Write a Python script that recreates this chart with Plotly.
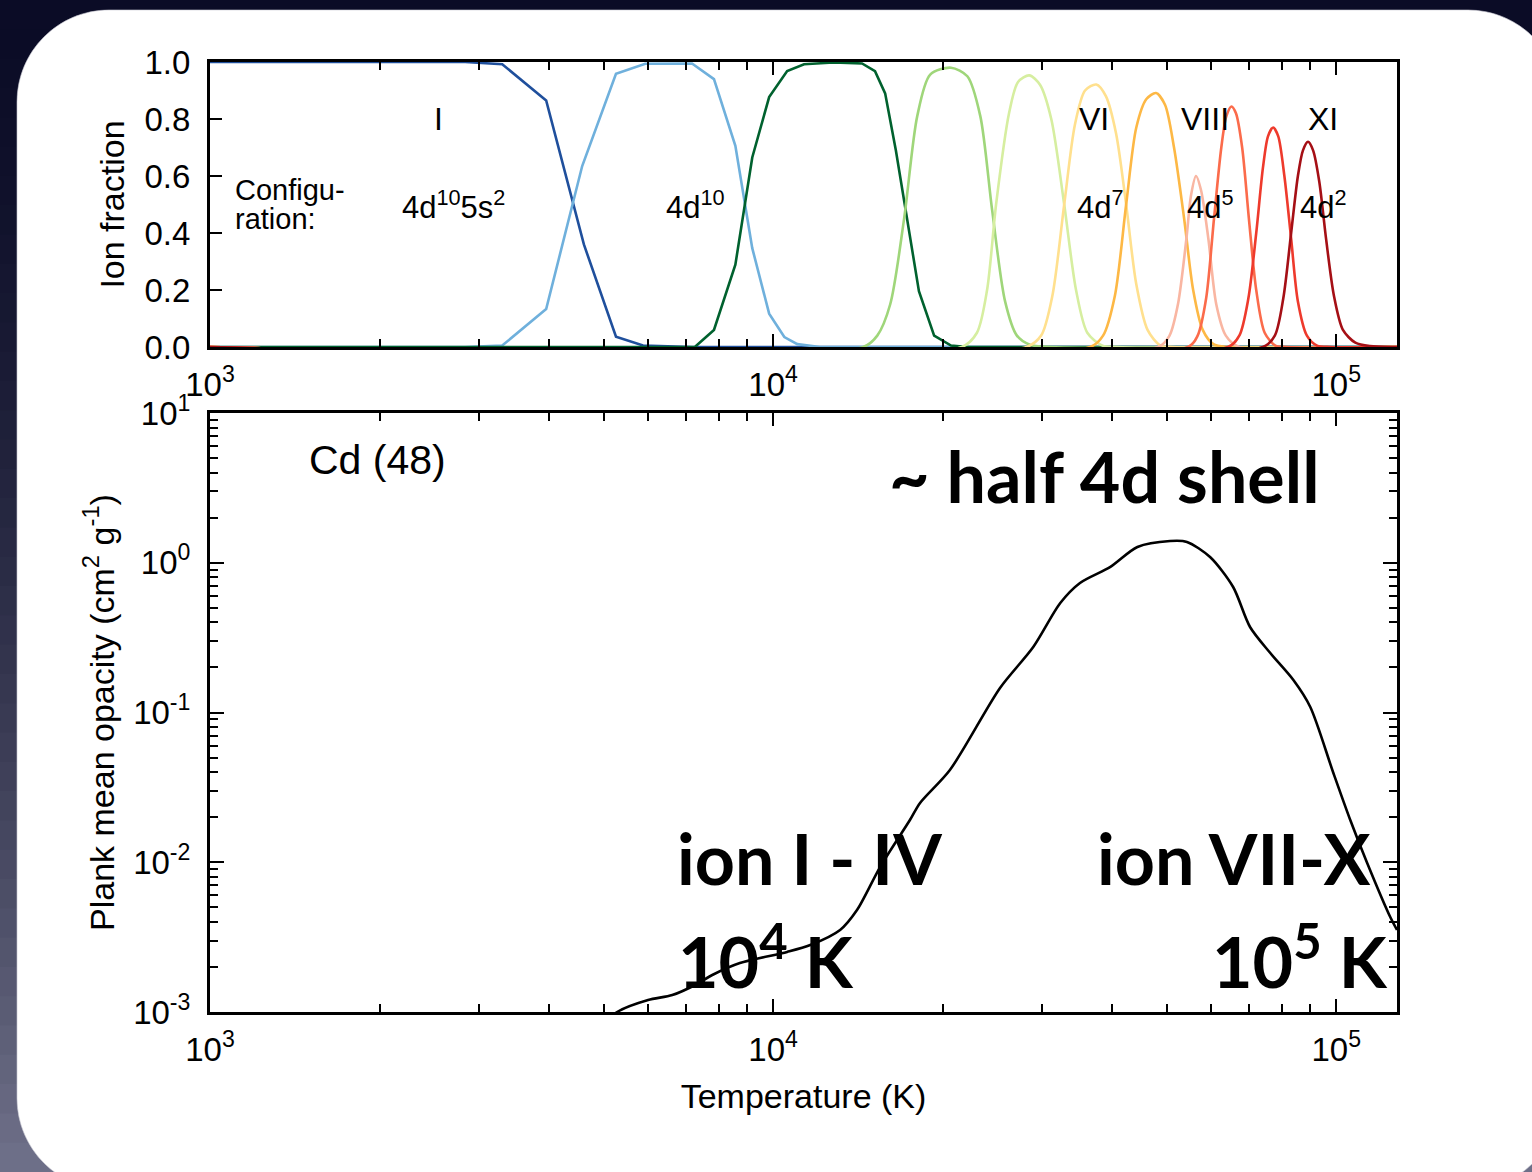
import plotly.graph_objects as go

W, H = 1532, 1172

# ---------------- data: ion fractions of Cd (log10 T, fraction) ----------------
ion_labels = ["I", "II", "III", "IV", "V", "VI", "VII", "VIII", "IX", "X", "XI"]
ion_colors = ["#1f4f9c", "#6fb0dc", "#00612e", "#9fd67a", "#d6eea0", "#ffe08e",
              "#fdb845", "#f9b6a2", "#fb6b4b", "#ee3a2c", "#a50f15"]

logT_I = [3.000, 3.453, 3.519, 3.597, 3.664, 3.721, 3.769, 3.856, 5.110]
frac_I = [1.0, 1.0, 0.992, 0.865, 0.36, 0.036, 0.005, 0.0, 0.0]

logT_II = [3.000, 3.453, 3.519, 3.597, 3.661, 3.721, 3.773, 3.856, 3.895, 3.933, 3.963,
           3.993, 4.020, 4.043, 4.083, 5.110]
frac_II = [0.0, 0.0, 0.005, 0.133, 0.635, 0.959, 0.994, 0.995, 0.94, 0.706, 0.347,
           0.117, 0.035, 0.01, 0.0, 0.0]

logT_III = [3.000, 3.861, 3.895, 3.933, 3.963, 3.993, 4.025, 4.055, 4.107, 4.158, 4.181,
            4.199, 4.218, 4.240, 4.259, 4.286, 4.316, 4.345, 5.110]
frac_III = [0.0, 0.0, 0.06, 0.289, 0.665, 0.877, 0.968, 0.992, 0.998, 0.995, 0.968,
            0.89, 0.69, 0.43, 0.196, 0.04, 0.005, 0.0, 0.0]

logT_IV = [3.000, 4.160, 4.185, 4.208, 4.233, 4.256, 4.279, 4.316, 4.345, 4.368, 4.389,
           4.412, 4.433, 4.456, 4.492, 5.110]
frac_IV = [0.0, 0.0, 0.04, 0.15, 0.455, 0.81, 0.956, 0.98, 0.95, 0.81, 0.48,
           0.16, 0.04, 0.008, 0.0, 0.0]

logT_V = [3.000, 4.335, 4.362, 4.380, 4.396, 4.419, 4.435, 4.455, 4.474, 4.494, 4.517,
          4.538, 4.558, 4.585, 4.612, 5.110]
frac_V = [0.0, 0.0, 0.05, 0.2, 0.5, 0.82, 0.93, 0.953, 0.92, 0.8, 0.5,
          0.2, 0.05, 0.005, 0.0, 0.0]

logT_VI = [3.000, 4.450, 4.476, 4.496, 4.517, 4.536, 4.554, 4.574, 4.591, 4.609, 4.627,
           4.645, 4.665, 4.688, 4.710, 5.110]
frac_VI = [0.0, 0.0, 0.04, 0.18, 0.5, 0.78, 0.9, 0.921, 0.88, 0.75, 0.5,
           0.22, 0.06, 0.005, 0.0, 0.0]

logT_VII = [3.000, 4.563, 4.586, 4.607, 4.627, 4.645, 4.663, 4.680, 4.696, 4.712, 4.730,
            4.746, 4.763, 4.782, 4.806, 5.110]
frac_VII = [0.0, 0.0, 0.04, 0.18, 0.5, 0.77, 0.87, 0.891, 0.85, 0.7, 0.45,
            0.2, 0.06, 0.01, 0.0, 0.0]

logT_VIII = [3.000, 4.684, 4.704, 4.719, 4.734, 4.742, 4.751, 4.760, 4.773, 4.787, 4.804,
             4.828, 5.110]
frac_VIII = [0.0, 0.0, 0.04, 0.15, 0.38, 0.53, 0.6, 0.55, 0.38, 0.15, 0.04, 0.0, 0.0]

logT_IX = [3.000, 4.737, 4.754, 4.769, 4.783, 4.796, 4.805, 4.814, 4.822, 4.833, 4.845,
           4.858, 4.873, 4.892, 4.912, 5.110]
frac_IX = [0.0, 0.0, 0.04, 0.17, 0.45, 0.7, 0.81, 0.844, 0.82, 0.7, 0.45,
           0.2, 0.05, 0.005, 0.0, 0.0]

logT_X = [3.000, 4.808, 4.828, 4.844, 4.858, 4.870, 4.879, 4.888, 4.897, 4.908, 4.920,
          4.932, 4.948, 4.966, 4.990, 5.110]
frac_X = [0.0, 0.0, 0.04, 0.17, 0.4, 0.63, 0.74, 0.77, 0.74, 0.6, 0.38,
          0.16, 0.04, 0.005, 0.0, 0.0]

logT_XI = [3.000, 4.870, 4.891, 4.906, 4.920, 4.932, 4.941, 4.950, 4.959, 4.970, 4.982,
           4.996, 5.012, 5.034, 5.060, 5.105, 5.110]
frac_XI = [0.0, 0.0, 0.04, 0.17, 0.4, 0.6, 0.69, 0.72, 0.69, 0.58, 0.38,
           0.18, 0.06, 0.015, 0.003, 0.0, 0.0]

ion_logT = [logT_I, logT_II, logT_III, logT_IV, logT_V, logT_VI, logT_VII,
            logT_VIII, logT_IX, logT_X, logT_XI]
ion_frac = [frac_I, frac_II, frac_III, frac_IV, frac_V, frac_VI, frac_VII,
            frac_VIII, frac_IX, frac_X, frac_XI]

# ---------------- data: Planck mean opacity (log10 T, log10 kappa) ----------------
logT_kappa = [3.700, 3.723, 3.778, 3.821, 3.865, 3.892, 3.941, 4.025, 4.066, 4.119, 4.149,
              4.190, 4.243, 4.261, 4.314, 4.403, 4.462, 4.510, 4.545, 4.599, 4.647,
              4.705, 4.735, 4.776, 4.817, 4.847, 4.883, 4.924, 4.954, 4.995, 5.025,
              5.055, 5.096, 5.108]
logkappa = [-3.08, -3.0, -2.920, -2.887, -2.813, -2.753, -2.673, -2.599, -2.553, -2.452, -2.319,
            -2.032, -1.718, -1.604, -1.384, -0.836, -0.563, -0.269, -0.135, -0.028, 0.105,
            0.145, 0.139, 0.038, -0.162, -0.429, -0.603, -0.783, -0.963, -1.404, -1.718,
            -2.005, -2.366, -2.452]

x_tick_vals = [1e3, 1e4, 1e5]
x_tick_text = ["10<sup>3</sup>", "10<sup>4</sup>", "10<sup>5</sup>"]
frac_tick_vals = [0.0, 0.2, 0.4, 0.6, 0.8, 1.0]
frac_tick_text = ["0.0", "0.2", "0.4", "0.6", "0.8", "1.0"]
kappa_tick_vals = [1e-3, 1e-2, 1e-1, 1e0, 1e1]
kappa_tick_text = ["10<sup>-3</sup>", "10<sup>-2</sup>", "10<sup>-1</sup>",
                   "10<sup>0</sup>", "10<sup>1</sup>"]

FONT = "Liberation Sans, Arial, Helvetica, sans-serif"
BOLD_FONT = "Lato, Liberation Sans, sans-serif"

fig = go.Figure()

smooth_ions = {"IV", "V", "VI", "VII", "VIII", "IX", "X", "XI"}
for name, col, lt, fr in zip(ion_labels, ion_colors, ion_logT, ion_frac):
    fig.add_trace(go.Scatter(
        x=[10 ** v for v in lt], y=fr, mode="lines", name=name,
        line=dict(color=col, width=2.6,
                  shape="spline" if name in smooth_ions else "linear", smoothing=0.8),
        xaxis="x", yaxis="y", showlegend=False, hoverinfo="skip"))

fig.add_trace(go.Scatter(
    x=[10 ** v for v in logT_kappa], y=[10 ** v for v in logkappa], mode="lines",
    line=dict(color="black", width=2.6, shape="spline", smoothing=0.8),
    xaxis="x2", yaxis="y2", showlegend=False, hoverinfo="skip"))

# ---------------- layout geometry ----------------
def px_x(p):
    return p / W

def px_y(p):
    return 1 - p / H

x_dom = [px_x(210), px_x(1397)]
top_dom = [px_y(347), px_y(62)]
bot_dom = [px_y(1012), px_y(413)]

minor_x = [k * 10 ** e for e in (3, 4) for k in range(2, 10)]
minor_k = [k * 10.0 ** e for e in (-3, -2, -1, 0) for k in range(2, 10)]

TICK_SIZE = 33
TITLE_SIZE = 34

axis_common = dict(showline=True, linecolor="black", linewidth=3, showgrid=False,
                   zeroline=False, ticks="inside", tickcolor="black", automargin=False,
                   tickfont=dict(family=FONT, size=TICK_SIZE, color="black"))

fig.update_layout(
    width=W, height=H, autosize=False,
    margin=dict(l=0, r=0, t=0, b=0, pad=0, autoexpand=False),
    paper_bgcolor="#0d0e2c", plot_bgcolor="white",
    font=dict(family=FONT, color="black"),
    xaxis=dict(axis_common, type="log", range=[3, 5.108], domain=x_dom, anchor="y",
               mirror="allticks", tickvals=x_tick_vals, ticktext=x_tick_text,
               ticklen=13, tickwidth=2, ticklabelstandoff=6,
               minor=dict(ticks="inside", tickvals=minor_x, ticklen=8, tickwidth=1.6,
                          tickcolor="black", showgrid=False)),
    yaxis=dict(axis_common, range=[0, 1], domain=top_dom, anchor="x",
               mirror=True, tickvals=frac_tick_vals, ticktext=frac_tick_text,
               ticklen=12, tickwidth=2, ticklabelstandoff=10,
               title=dict(text="Ion fraction",
                          font=dict(family=FONT, size=TITLE_SIZE, color="black"),
                          standoff=10)),
    xaxis2=dict(axis_common, type="log", range=[3, 5.108], domain=x_dom, anchor="y2",
                mirror="allticks", tickvals=x_tick_vals, ticktext=x_tick_text,
                ticklen=13, tickwidth=2, ticklabelstandoff=6,
                minor=dict(ticks="inside", tickvals=minor_x, ticklen=8, tickwidth=1.6,
                           tickcolor="black", showgrid=False),
                title=dict(text="Temperature (K)",
                           font=dict(family=FONT, size=TITLE_SIZE, color="black"),
                           standoff=18)),
    yaxis2=dict(axis_common, type="log", range=[-3, 1], domain=bot_dom, anchor="x2",
                mirror="allticks", tickvals=kappa_tick_vals, ticktext=kappa_tick_text,
                ticklen=14, tickwidth=2, ticklabelstandoff=10,
                minor=dict(ticks="inside", tickvals=minor_k, ticklen=8, tickwidth=1.6,
                           tickcolor="black", showgrid=False),
                title=dict(text="Plank mean opacity (cm<sup>2</sup> g<sup>-1</sup>)",
                           font=dict(family=FONT, size=TITLE_SIZE, color="black"),
                           standoff=9)),
)

# ---------------- slide background + white rounded panel ----------------
shapes = []
top_c = (11, 12, 38)
bot_c = (112, 114, 138)
n_bands = 40
for i in range(n_bands):
    t = (i + 0.5) / n_bands
    t2 = t ** 1.6
    c = tuple(int(top_c[j] + (bot_c[j] - top_c[j]) * t2) for j in range(3))
    shapes.append(dict(type="rect", xref="paper", yref="paper", layer="below",
                       x0=0, x1=1, y0=px_y(H * (i + 1) / n_bands) - 0.001,
                       y1=px_y(H * i / n_bands),
                       fillcolor="rgb(%d,%d,%d)" % c, line=dict(width=0)))

x0p, y0p, x1p, y1p = 17, 10, 1560, 1190
r = 92
k = 0.5523 * r

def P(x, y):
    return "%.5f,%.5f" % (px_x(x), px_y(y))

path = ("M " + P(x0p + r, y0p) + " L " + P(x1p - r, y0p) +
        " C " + P(x1p - r + k, y0p) + " " + P(x1p, y0p + r - k) + " " + P(x1p, y0p + r) +
        " L " + P(x1p, y1p - r) +
        " C " + P(x1p, y1p - r + k) + " " + P(x1p - r + k, y1p) + " " + P(x1p - r, y1p) +
        " L " + P(x0p + r, y1p) +
        " C " + P(x0p + r - k, y1p) + " " + P(x0p, y1p - r + k) + " " + P(x0p, y1p - r) +
        " L " + P(x0p, y0p + r) +
        " C " + P(x0p, y0p + r - k) + " " + P(x0p + r - k, y0p) + " " + P(x0p + r, y0p) + " Z")
shapes.append(dict(type="path", path=path, xref="paper", yref="paper", layer="below",
                   fillcolor="white", line=dict(color="rgba(200,200,210,0.6)", width=1)))
fig.update_layout(shapes=shapes)

# ---------------- annotations ----------------
ann = []

def top_note(text, lx, fy, size=32, xanchor="center"):
    ann.append(dict(text=text, x=lx, y=fy, xref="x", yref="y", showarrow=False,
                    xanchor=xanchor, yanchor="middle", align="left",
                    font=dict(family=FONT, size=size, color="black")))

top_note("I", 3.405, 0.80)
top_note("VI", 4.570, 0.80)
top_note("VIII", 4.767, 0.80)
top_note("XI", 4.977, 0.80)
top_note("Configu-", 3.041, 0.551, size=29, xanchor="left")
top_note("ration:", 3.041, 0.449, size=29, xanchor="left")
top_note("4d<sup>10</sup>5s<sup>2</sup>", 3.432, 0.50, size=31)
top_note("4d<sup>10</sup>", 3.863, 0.50, size=31)
top_note("4d<sup>7</sup>", 4.581, 0.50, size=31)
top_note("4d<sup>5</sup>", 4.776, 0.50, size=31)
top_note("4d<sup>2</sup>", 4.977, 0.50, size=31)

def bot_note(text, lx, ly, size, family, bold=False):
    ann.append(dict(text=("<b>%s</b>" % text) if bold else text, x=lx, y=ly,
                    xref="x2", yref="y2", showarrow=False, xanchor="center",
                    yanchor="middle", font=dict(family=family, size=size, color="black")))

bot_note("Cd (48)", 3.298, 0.686, 41, FONT)
bot_note("~ half 4d shell", 4.588, 0.579, 70, BOLD_FONT, bold=True)
bot_note("ion I - IV", 4.064, -1.972, 70, BOLD_FONT, bold=True)
bot_note("ion VII-X", 4.817, -1.972, 70, BOLD_FONT, bold=True)
bot_note("10<sup>4</sup> K", 3.988, -2.633, 70, BOLD_FONT, bold=True)
bot_note("10<sup>5</sup> K", 4.936, -2.633, 70, BOLD_FONT, bold=True)

fig.update_layout(annotations=ann)

fig.write_html("out.html")
